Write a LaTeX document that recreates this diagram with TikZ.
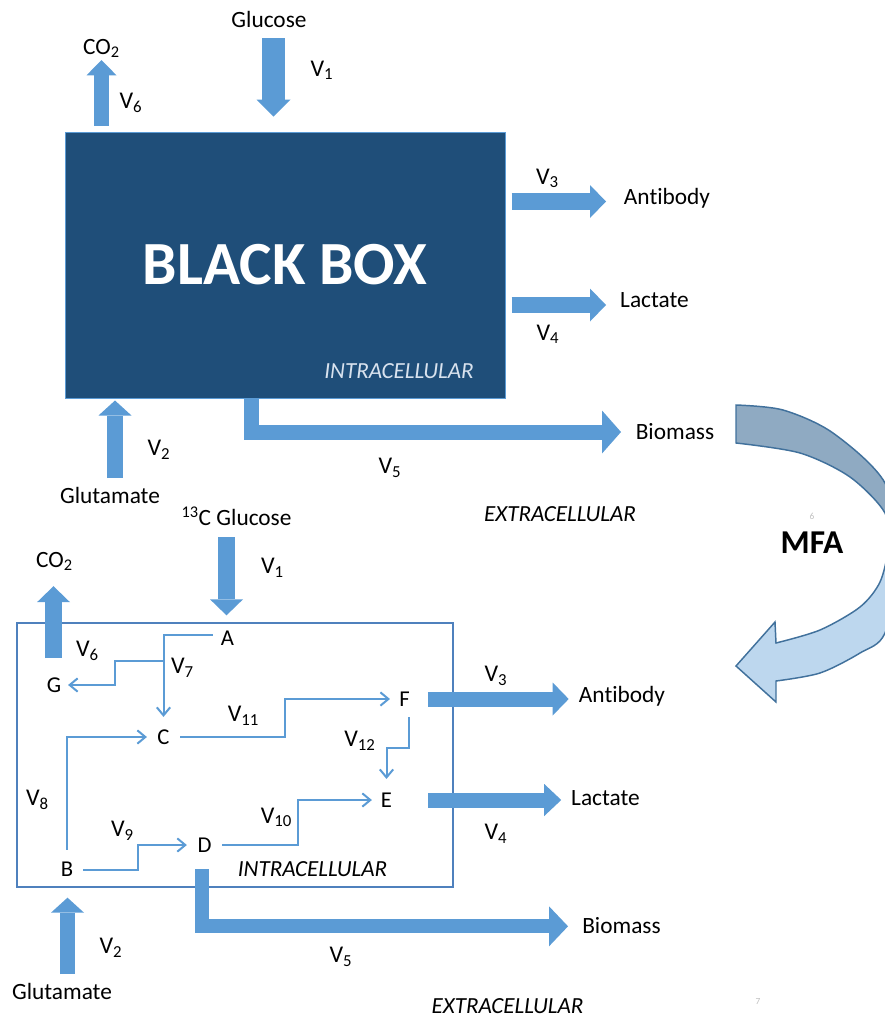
\documentclass[tikz,border=0pt]{standalone}
\usepackage{fontspec}
\setmainfont{Carlito}[Ligatures=NoCommon]
\usepackage{tikz}
\usetikzlibrary{arrows.meta,positioning}
\definecolor{boxblue}{RGB}{31,78,121}
\definecolor{fluxblue}{RGB}{91,155,213}
\definecolor{cellblue}{RGB}{79,129,189}
\definecolor{edgeblue}{RGB}{65,113,156}
\definecolor{mfatop}{RGB}{143,170,194}
\definecolor{mfabot}{RGB}{189,215,238}
\definecolor{paletext}{RGB}{216,226,238}
\definecolor{pagegray}{RGB}{191,191,191}

\begin{document}
\begin{tikzpicture}[x=0.75pt, y=-0.75pt, every node/.style={inner sep=0pt, text depth=0pt},
  txt/.style={font=\fontsize{17.5}{20}\selectfont, text height=11.1pt},
  vlab/.style={font=\fontsize{18}{21}\selectfont, text height=11.4pt},
  met/.style={font=\fontsize{17}{20}\selectfont, text height=10.75pt},
  zone/.style={font=\fontsize{17.3}{20}\selectfont\itshape, text height=10.9pt},
  pgnum/.style={font=\fontsize{7}{8}\selectfont, text=pagegray, text height=4.5pt},
  fat/.style args={#1/#2/#3}{draw=fluxblue, line width=#1, -{Triangle[width=#2, length=#3, line width=0pt]}},
  flux/.style={draw=fluxblue, line width=1.5pt, -{Straight Barb[length=6pt, width=10pt]}}]
\useasboundingbox (0,0) rectangle (885,1018);

% black box model
\node (bbox) [draw=fluxblue, line width=0.75pt, fill=boxblue, minimum width=330pt, minimum height=199.5pt,
  font=\fontsize{46}{50}\selectfont\bfseries, text=white, text height=29.1pt] at (285,265) {BLACK BOX};
\node (intra) [zone, text=paletext] at (399,371) {INTRACELLULAR};
\node (glucose) [txt] at (269,20) {Glucose};
\node (co2) [txt] at (101.5,47) {CO\textsubscript{2}};
\node (v1) [vlab] at (322,68.5) {V\textsubscript{1}};
\node (v6) [vlab] at (131,101) {V\textsubscript{6}};
\node (antibody) [txt] at (667,197.5) {Antibody};
\node (lactate) [txt] at (654.5,300.5) {Lactate};
\node (v3) [vlab] at (547.5,176.5) {V\textsubscript{3}};
\node (v4) [vlab] at (548,332.5) {V\textsubscript{4}};
\node (biomass) [txt] at (675,432) {Biomass};
\node (v5) [vlab] at (390,466) {V\textsubscript{5}};
\node (glutamate) [txt] at (110,496.5) {Glutamate};
\node (v2) [vlab] at (159,448) {V\textsubscript{2}};
\node (extra) [zone] at (560,514) {EXTRACELLULAR};

\coordinate (v1in) at (273.5,38);
\coordinate (v6out) at (101.5,60);
\coordinate (v2in) at (115,478);
\coordinate (v3out) at (606,201.5);
\coordinate (v4out) at (606,305);
\coordinate (v5knee) at (251,432);
\coordinate (v5out) at (621,432);
\draw [fat={17pt/25.5pt/12.75pt}, shorten >=11.25pt] (v1in) -- (v1in |- bbox.north);
\draw [fat={11.25pt/22.5pt/11.5pt}, shorten <=4.5pt] (v6out |- bbox.north) -- (v6out);
\draw [fat={12pt/24.75pt/11.25pt}, shorten >=1.5pt] (v2in) -- (v2in |- bbox.south);
\draw [fat={12.75pt/24.75pt/12pt}, shorten <=4.5pt] (v3out -| bbox.east) -- (v3out);
\draw [fat={12pt/24.75pt/12pt}, shorten <=4.5pt] (v4out -| bbox.east) -- (v4out);
\draw [fat={11.25pt/32.25pt/14.25pt}] (v5knee |- bbox.south) -- (v5knee) -- (v5out);

% MFA
\begin{scope}
\clip (736,443) -- plot[smooth] coordinates {(736,405) (783,410) (833,433) (885,483) (901,558) (885,633) (860,653) (820,673) (776,681)}
  -- (776,702) -- (736,666) -- (775,622)
  -- plot[smooth] coordinates {(776,643) (820,630) (860,607) (880,582) (888,548) (885,513) (850,477) (800,453) (736,443)} -- cycle;
\fill [mfatop] (700,380) rectangle (920,528);
\shade [top color=mfatop, bottom color=mfabot] (700,528) rectangle (920,552);
\fill [mfabot] (700,552) rectangle (920,720);
\end{scope}
\draw [edgeblue, line width=1.1pt, line join=miter] (736,443) -- plot[smooth] coordinates {(736,405) (783,410) (833,433) (885,483) (901,558) (885,633) (860,653) (820,673) (776,681)}
  -- (776,702) -- (736,666) -- (775,622)
  -- plot[smooth] coordinates {(776,643) (820,630) (860,607) (880,582) (888,548) (885,513) (850,477) (800,453) (736,443)} -- cycle;
\node (mfa) [font=\fontsize{25}{28}\selectfont\bfseries, text height=15.8pt] at (812,543) {MFA};
\node (page6) [pgnum] at (812,516) {6};

% metabolic network
\node (cell) [draw=cellblue, line width=1pt, minimum width=327pt, minimum height=198pt] at (235,755) {};
\node (a) [met] at (227.5,638) {A};
\node (g) [met] at (54,685) {G};
\node (c) [met] at (163.5,737) {C};
\node (f) [met] at (404.5,699) {F};
\node (e) [met] at (386.5,800) {E};
\node (d) [met] at (204.5,845) {D};
\node (b) [met] at (67,869.5) {B};
\node (intrab) [zone] at (312.5,869) {INTRACELLULAR};

\node (glucoseb) [txt] at (236.5,518.5) {\textsuperscript{13}C Glucose};
\node (co2b) [txt] at (54.5,560) {CO\textsubscript{2}};
\node (antibodyb) [txt] at (622,695.5) {Antibody};
\node (lactateb) [txt] at (605.5,798.5) {Lactate};
\node (biomassb) [txt] at (621.5,926.3) {Biomass};
\node (glutamateb) [txt] at (62,992) {Glutamate};
\node (extrab) [zone] at (507.5,1006.5) {EXTRACELLULAR};
\node (page7) [pgnum] at (758,1001) {7};

\node (v1b) [vlab] at (272.5,566) {V\textsubscript{1}};
\node (v2b) [vlab] at (111,946) {V\textsubscript{2}};
\node (v3b) [vlab] at (496,674) {V\textsubscript{3}};
\node (v4b) [vlab] at (496,832) {V\textsubscript{4}};
\node (v5b) [vlab] at (341,955) {V\textsubscript{5}};
\node (v6b) [vlab] at (87.5,649) {V\textsubscript{6}};
\node (v7) [vlab] at (182.5,666) {V\textsubscript{7}};
\node (v8) [vlab] at (37.5,798) {V\textsubscript{8}};
\node (v9) [vlab] at (122.5,829) {V\textsubscript{9}};
\node (v10) [vlab] at (276.5,815.5) {V\textsubscript{10}};
\node (v11) [vlab] at (243.5,714) {V\textsubscript{11}};
\node (v12) [vlab] at (360,739) {V\textsubscript{12}};

\coordinate (v1bin) at (226.5,537);
\coordinate (v6bin) at (53.5,658);
\coordinate (v2bin) at (67.5,974);
\coordinate (v7fork) at (163.5,661);
\draw [fat={12.75pt/24.75pt/12pt}, shorten >=5.25pt] (v1bin) -- (v1bin |- cell.north);
\draw [fat={12.75pt/24.75pt/12pt}, shorten >=13.9pt] (v6bin) -- (v6bin |- co2b.south);
\draw [fat={11.25pt/24.75pt/11.25pt}, shorten >=7.5pt] (v2bin) -- (v2bin |- cell.south);
\draw [fat={11.25pt/24.75pt/12pt}, shorten <=13.5pt, shorten >=7.5pt] (f.east) -- (f.east -| antibodyb.west);
\draw [fat={11.25pt/24pt/12.75pt}, shorten <=27pt, shorten >=7.3pt] (e.east) -- (e.east -| lactateb.west);
\draw [fat={10.5pt/30pt/14.25pt}, shorten <=12.5pt, shorten >=10.5pt] ([xshift=-1.9pt]d.south) |- (biomassb.west);

\draw [flux, shorten <=5.8pt, shorten >=9.5pt] ([yshift=2.25pt]a.west) -| (c.north);
\draw [flux, shorten >=5pt] (v7fork) -- ++(-48.5,0) |- (g.east);
\draw [flux, shorten <=7.7pt, shorten >=6.8pt] (c.east) -- ++(115,0) |- (f.west);
\draw [flux, shorten <=8pt, shorten >=10.2pt] ([xshift=3.4pt]f.south) -- ++(0,42) -| (e.north);
\draw [flux, shorten <=9.1pt, shorten >=7.7pt] (b.north) |- (c.west);
\draw [flux, shorten <=7.3pt, shorten >=7.8pt] (b.east) -- ++(64.5,0) |- (d.west);
\draw [flux, shorten <=7.8pt, shorten >=6.6pt] (d.east) -- ++(86,0) |- (e.west);
\end{tikzpicture}
\end{document}
